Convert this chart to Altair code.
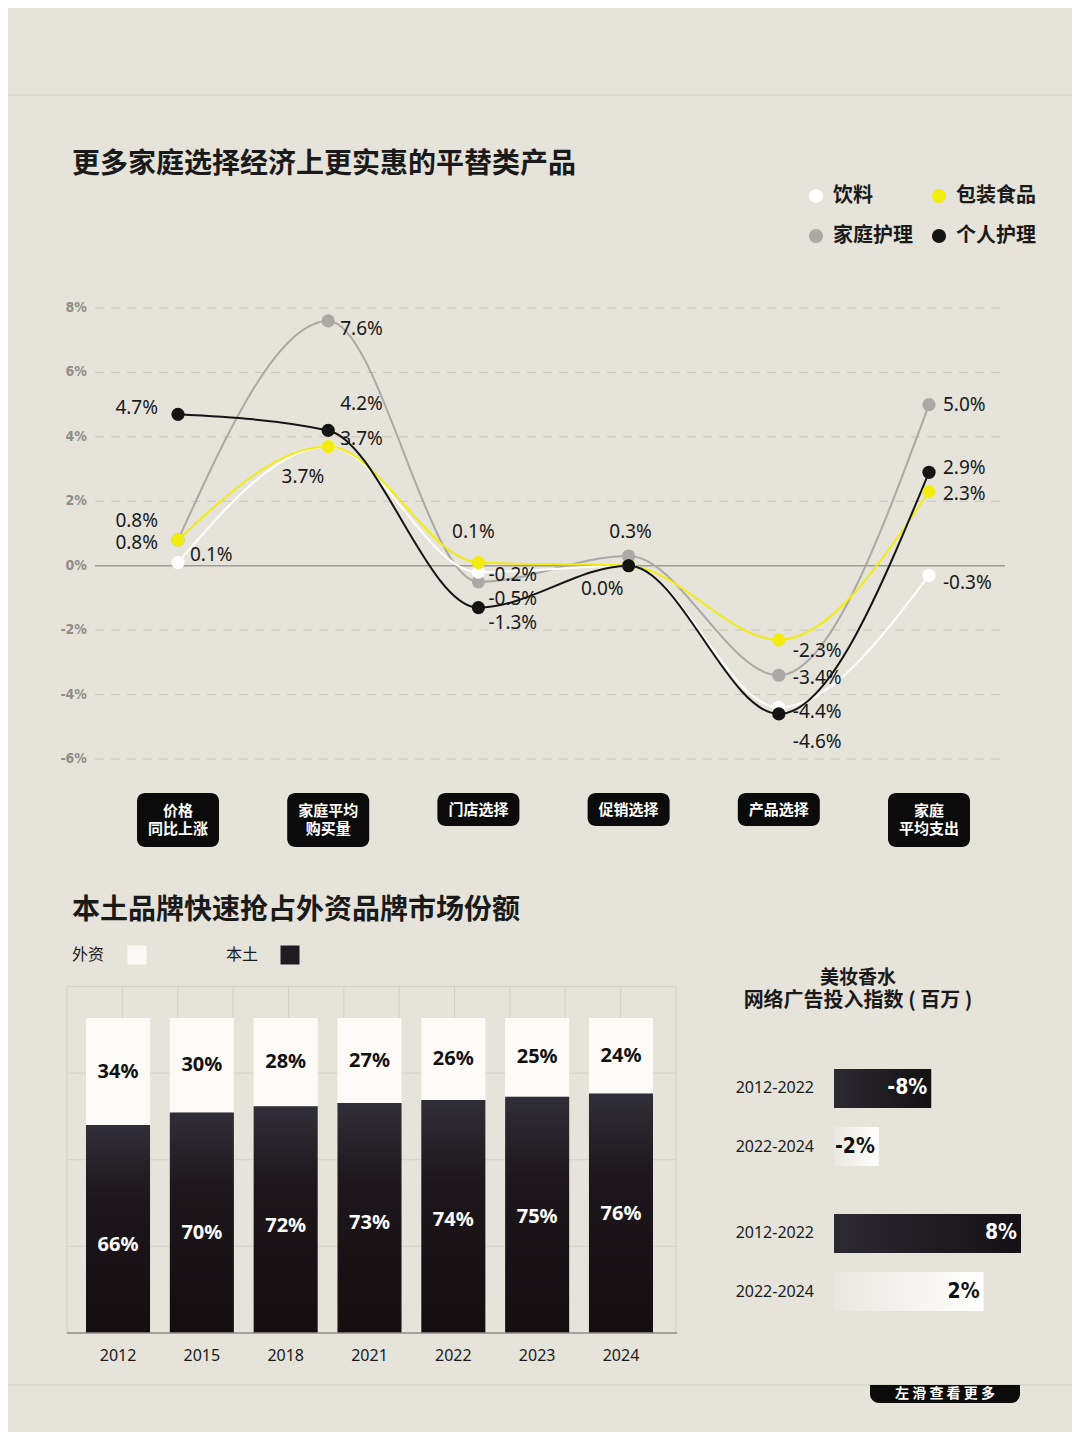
import altair as alt
import pandas as pd

# ---------------- data ----------------
cat_keys = ["价格同比上涨", "家庭平均购买量", "门店选择", "促销选择", "产品选择", "家庭平均支出"]
cat_labels = ["价格\n同比上涨", "家庭平均\n购买量", "门店选择", "促销选择", "产品选择", "家庭\n平均支出"]

series_names = ["饮料", "家庭护理", "包装食品", "个人护理"]
beverages = [0.1, 3.7, -0.2, 0.0, -4.4, -0.3]
home_care = [0.8, 7.6, -0.5, 0.3, -3.4, 5.0]
packaged_food = [0.8, 3.7, 0.1, 0.0, -2.3, 2.3]
personal_care = [4.7, 4.2, -1.3, 0.0, -4.6, 2.9]

y_tick_values = [8, 6, 4, 2, 0, -2, -4, -6]

years = ["2012", "2015", "2018", "2021", "2022", "2023", "2024"]
foreign_share = [34, 30, 28, 27, 26, 25, 24]
local_share = [66, 70, 72, 73, 74, 75, 76]

ad_periods = ["2012-2022", "2022-2024"]
ad_index_foreign = [52, 24]      # relative bar length (estimated)
ad_index_local = [100, 80]
ad_change_foreign = ["-8%", "-2%"]
ad_change_local = ["8%", "2%"]

# ---------------- style ----------------
BG = "#e5e3da"
INK = "#1a1a1a"
CJK = "Noto Sans CJK SC"
SANS = "Noto Sans"
COND = "DejaVu Sans Condensed"
W, H = 1064, 1424

series_colors = ["#ffffff", "#aaa9a5", "#f2ec0f", "#141414"]

# label placement per series/category: (side, dx, dy)
LABEL_PLACE = {
    "饮料": [("R", 12, -7), ("R", 12, -8), ("R", 10, 3), None, ("R", 14, 5), ("R", 14, 8)],
    "包装食品": [("L", -20, 3), ("L", -4, 30), ("C", -5, -30), None, ("R", 14, 11), ("R", 14, 2)],
    "家庭护理": [("L", -20, -19), ("R", 12, 8), ("R", 10, 17), ("C", 2, -24), ("R", 14, 3), ("R", 14, 0)],
    "个人护理": [("L", -20, -6), ("R", 12, -26), ("R", 10, 15), ("L", -5, 23), ("R", 14, 28), ("R", 14, -4)],
}
SIDE_ALIGN = {"R": "left", "L": "right", "C": "center"}

one = pd.DataFrame({"k": [0]})


def text_at(txt, x, y, **kw):
    return alt.Chart(pd.DataFrame({"t": [txt]})).mark_text(**kw).encode(
        x=alt.value(x), y=alt.value(y), text="t:N")


def rule_px(x1, x2, y1, y2, **kw):
    return alt.Chart(one).mark_rule(**kw).encode(
        x=alt.value(x1), x2=alt.value(x2), y=alt.value(y1), y2=alt.value(y2))


layers = []

# separators
layers.append(rule_px(0, W, 87, 87, color="#cfcbc1", strokeWidth=1))
layers.append(rule_px(0, W, 1377, 1377, color="#cfcbc1", strokeWidth=1))

# ================= line chart =================
layers.append(text_at("更多家庭选择经济上更实惠的平替类产品", 64, 157, align="left", baseline="middle",
                      font=CJK, fontSize=28, fontWeight="bold", color=INK))

xs_line = alt.Scale(type="point", domain=cat_keys, range=[170, 921], padding=0)
ys_line = alt.Scale(domain=[-6, 8], range=[751, 300], nice=False, zero=False)
color_scale = alt.Scale(domain=series_names, range=series_colors)
series_legend = alt.Legend(
    title=None, orient="none", legendX=798, legendY=178, columns=2, symbolType="circle",
    symbolSize=200, symbolStrokeWidth=0, symbolOpacity=1, labelFont=CJK, labelFontSize=20,
    labelFontWeight="bold", labelColor=INK, labelOffset=7, columnPadding=16, rowPadding=20,
    padding=0)

df_grid = pd.DataFrame({"v": [t for t in y_tick_values if t != 0]})
layers.append(alt.Chart(df_grid).mark_rule(color="#c9c6bc", strokeWidth=1, strokeDash=[9, 7]).encode(
    y=alt.Y("v:Q", scale=ys_line, axis=None), x=alt.value(87), x2=alt.value(997)))
layers.append(alt.Chart(pd.DataFrame({"v": [0]})).mark_rule(color="#9d9b93", strokeWidth=1.5).encode(
    y=alt.Y("v:Q", scale=ys_line, axis=None), x=alt.value(87), x2=alt.value(997)))
df_yt = pd.DataFrame({"v": y_tick_values, "t": [f"{v}%" for v in y_tick_values]})
layers.append(alt.Chart(df_yt).mark_text(align="right", baseline="middle", font=COND, fontSize=14,
                                         fontWeight="bold", color="#908d87").encode(
    y=alt.Y("v:Q", scale=ys_line, axis=None), x=alt.value(79), text="t:N"))

series_values = dict(zip(series_names, [beverages, home_care, packaged_food, personal_care]))
draw_order = ["家庭护理", "饮料", "包装食品", "个人护理"]
rows = []
for s in draw_order:
    for i, (c, v) in enumerate(zip(cat_keys, series_values[s])):
        p = LABEL_PLACE[s][i]
        rows.append(dict(series=s, cat=c, idx=i, value=v, label=f"{v:.1f}%",
                         side=p[0] if p else "", ldx=p[1] if p else 0, ldy=p[2] if p else 0))
df_line = pd.DataFrame(rows)

X_line = alt.X("cat:N", scale=xs_line, axis=None)
Y_line = alt.Y("value:Q", scale=ys_line, axis=None)

layers.append(alt.Chart(df_line).mark_line(strokeWidth=2, interpolate="monotone").encode(
    x=X_line, y=Y_line, color=alt.Color("series:N", scale=color_scale, legend=series_legend),
    order=alt.Order("idx:Q")))

layers.append(alt.Chart(df_line).mark_circle(size=175, opacity=1).encode(
    x=X_line, y=Y_line,
    color=alt.Color("series:N", scale=color_scale, legend=series_legend)))

placements = sorted({(r.side, int(r.ldx), int(r.ldy)) for r in df_line.itertuples() if r.side})
for side, ldx, ldy in placements:
    layers.append(alt.Chart(df_line).transform_filter(
        (alt.datum.side == side) & (alt.datum.ldx == ldx) & (alt.datum.ldy == ldy)).mark_text(
        align=SIDE_ALIGN[side], baseline="middle", font=SANS, fontSize=19, color=INK,
        dx=ldx, dy=ldy).encode(x=X_line, y=Y_line, text="label:N"))

# category boxes
df_cats = pd.DataFrame({"cat": cat_keys, "label": cat_labels,
                        "lines": [l.count("\n") + 1 for l in cat_labels]})
for n, y1, y2, yc in [(2, 785, 839, 803), (1, 785, 818, 801.5)]:
    base = alt.Chart(df_cats).transform_filter(alt.datum.lines == n)
    layers.append(base.mark_bar(width=82, cornerRadius=8, color="#0b0b0b").encode(
        x=X_line.copy(), y=alt.value(y1), y2=alt.value(y2)))
    layers.append(base.mark_text(align="center", baseline="middle", lineBreak="\n", lineHeight=18,
                                 font=CJK, fontSize=15, fontWeight="bold", color="#ffffff").encode(
        x=X_line.copy(), y=alt.value(yc), text="label:N"))

# ================= stacked bars =================
layers.append(text_at("本土品牌快速抢占外资品牌市场份额", 64, 903, align="left", baseline="middle",
                      font=CJK, fontSize=28, fontWeight="bold", color=INK))
layers.append(text_at("外资", 64, 947, align="left", baseline="middle", font=CJK, fontSize=16, color=INK))
layers.append(text_at("本土", 218, 947, align="left", baseline="middle", font=CJK, fontSize=16, color=INK))
layers.append(alt.Chart(one).mark_square(size=361, color="#fbfaf6", opacity=1).encode(
    x=alt.value(129), y=alt.value(947)))
layers.append(alt.Chart(one).mark_square(size=361, color="#201b22", opacity=1).encode(
    x=alt.value(282), y=alt.value(947)))

xs_bar = alt.Scale(type="band", domain=years, range=[78, 645], paddingInner=0.236, paddingOuter=0)
ys_bar = alt.Scale(domain=[0, 100], range=[1325, 1010], nice=False, zero=True)
xs_gridcol = alt.Scale(domain=[0, 11], range=[59, 668], nice=False, zero=False)

grid_cols = [0, 1, 2, 3, 4, 5, 6, 7, 8, 9, 10, 11]
grid_rows = [27.5, 55, 82.5, 110]
layers.append(alt.Chart(pd.DataFrame({"c": grid_cols})).mark_rule(color="#d4d1c7", strokeWidth=1).encode(
    x=alt.X("c:Q", scale=xs_gridcol, axis=None), y=alt.value(979), y2=alt.value(1325)))
layers.append(alt.Chart(pd.DataFrame({"r": grid_rows})).mark_rule(color="#d4d1c7", strokeWidth=1).encode(
    y=alt.Y("r:Q", scale=ys_bar, axis=None), x=alt.value(59), x2=alt.value(668)))

df_bar = pd.DataFrame({"year": years, "foreign": foreign_share, "local": local_share})
df_bar["top"] = df_bar["local"] + df_bar["foreign"]
df_bar["mid"] = (df_bar["local"] + df_bar["top"]) / 2
df_bar["flab"] = [f"{v}%" for v in foreign_share]
df_bar["llab"] = [f"{v}%" for v in local_share]

X_bar = alt.X("year:N", scale=xs_bar, axis=None)
dark_v = alt.Gradient(gradient="linear", x1=0, x2=0, y1=0, y2=1,
                      stops=[alt.GradientStop(color="#302e37", offset=0),
                             alt.GradientStop(color="#1d171b", offset=0.35),
                             alt.GradientStop(color="#140e11", offset=1)])
layers.append(alt.Chart(df_bar).mark_bar(color="#fcfbf8").encode(
    x=X_bar, y=alt.Y("top:Q", scale=ys_bar, axis=None), y2="local:Q"))
layers.append(alt.Chart(df_bar).mark_bar(color=dark_v).encode(
    x=X_bar, y=alt.Y("local:Q", scale=ys_bar, axis=None), y2=alt.datum(0)))
layers.append(alt.Chart(pd.DataFrame({"v": [0]})).mark_rule(color="#8e8c86", strokeWidth=1.5).encode(
    y=alt.Y("v:Q", scale=ys_bar, axis=None), x=alt.value(59), x2=alt.value(669)))
layers.append(alt.Chart(df_bar).mark_text(baseline="middle", font=SANS, fontSize=20, fontWeight="bold",
                                          color="#111111").encode(
    x=X_bar, y=alt.Y("mid:Q", scale=ys_bar, axis=None), text="flab:N"))
layers.append(alt.Chart(df_bar).mark_text(baseline="middle", font=SANS, fontSize=20, fontWeight="bold",
                                          color="#ffffff", dy=120).encode(
    x=X_bar, y=alt.Y("local:Q", scale=ys_bar, axis=None), text="llab:N"))
layers.append(alt.Chart(df_bar).mark_text(baseline="middle", font=SANS, fontSize=16, color=INK).encode(
    x=X_bar, y=alt.value(1348), text="year:N"))

# ================= right panel =================
layers.append(text_at("美妆香水", 850, 970, align="center", baseline="middle", font=CJK, fontSize=19,
                      fontWeight="bold", color=INK))
layers.append(text_at("网络广告投入指数 ( 百万 )", 850, 993, align="center", baseline="middle", font=CJK,
                      fontSize=20, fontWeight="bold", color=INK))

xs_ad = alt.Scale(domain=[0, 100], range=[826, 1013], nice=False, zero=True)
dark_h = alt.Gradient(gradient="linear", x1=0, x2=1, y1=0, y2=0,
                      stops=[alt.GradientStop(color="#2c2a31", offset=0),
                             alt.GradientStop(color="#141115", offset=1)])
light_h = alt.Gradient(gradient="linear", x1=0, x2=1, y1=0, y2=0,
                       stops=[alt.GradientStop(color="#e9e7e0", offset=0),
                              alt.GradientStop(color="#ffffff", offset=1)])
groups = [
    (ad_index_foreign, ad_change_foreign, [1061, 1158]),
    (ad_index_local, ad_change_local, [1206, 1303]),
]
for vals, labs, yr in groups:
    df_ad = pd.DataFrame({"period": ad_periods, "val": vals, "lab": labs, "dark": [1, 0]})
    ys_ad = alt.Scale(type="band", domain=ad_periods, range=yr, paddingInner=0.33, paddingOuter=0)
    Y_ad = alt.Y("period:N", scale=ys_ad, axis=None)
    for dk, fill, tcol in [(1, dark_h, "#ffffff"), (0, light_h, "#111111")]:
        base = alt.Chart(df_ad).transform_filter(alt.datum.dark == dk)
        layers.append(base.mark_bar(color=fill).encode(
            x=alt.X("val:Q", scale=xs_ad, axis=None), x2=alt.datum(0), y=Y_ad))
        layers.append(base.mark_text(align="right", baseline="middle", font=COND, fontSize=21,
                                     fontWeight="bold", color=tcol, dx=-4).encode(
            x=alt.X("val:Q", scale=xs_ad, axis=None), y=Y_ad, text="lab:N"))
    layers.append(alt.Chart(df_ad).mark_text(align="right", baseline="middle", font=SANS, fontSize=16,
                                             color=INK).encode(
        x=alt.value(806), y=Y_ad, text="period:N"))

# bottom tab
layers.append(alt.Chart(one).mark_rect(color="#0b0b0b", cornerRadiusBottomLeft=9,
                                       cornerRadiusBottomRight=9).encode(
    x=alt.value(862), x2=alt.value(1012), y=alt.value(1377), y2=alt.value(1395)))
layers.append(text_at("左 滑 查 看 更 多", 937, 1386, align="center", baseline="middle", font=CJK, fontSize=14,
                      fontWeight="bold", color="#ffffff"))

chart = alt.layer(*layers).properties(
    width=W, height=H, background=BG, padding=0,
    autosize=alt.AutoSizeParams(type="none"),
).resolve_scale(x="independent", y="independent").configure_view(stroke=None)

chart.save("out.html", embed_options={"renderer": "svg", "actions": False})
